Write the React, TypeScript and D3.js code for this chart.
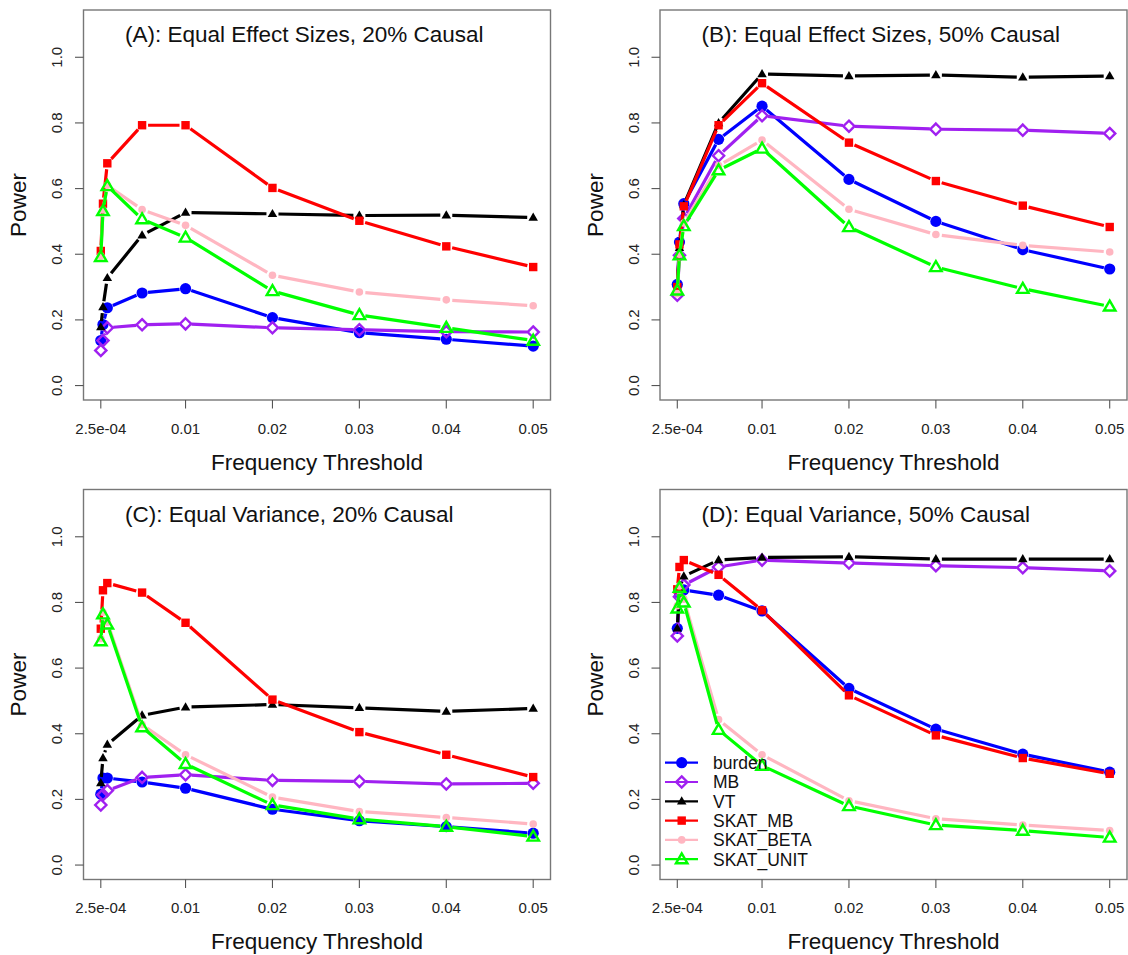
import React from "react";
import * as d3 from "d3";

const thresholds = [0.00025, 0.0005, 0.001, 0.005, 0.01, 0.02, 0.03, 0.04, 0.05];
const xTickValues = [0.00025, 0.01, 0.02, 0.03, 0.04, 0.05];
const xTickLabels = ["2.5e-04", "0.01", "0.02", "0.03", "0.04", "0.05"];
const yTickValues = [0, 0.2, 0.4, 0.6, 0.8, 1.0];
const yTickLabels = ["0.0", "0.2", "0.4", "0.6", "0.8", "1.0"];
const methods = ["burden", "MB", "VT", "SKAT_MB", "SKAT_BETA", "SKAT_UNIT"];
const panelTitles = [
  "(A): Equal Effect Sizes, 20% Causal",
  "(B): Equal Effect Sizes, 50% Causal",
  "(C): Equal Variance, 20% Causal",
  "(D): Equal Variance, 50% Causal",
];

// Panel A
const aBurden = [0.137, 0.186, 0.237, 0.282, 0.295, 0.207, 0.161, 0.141, 0.12];
const aMB = [0.107, 0.137, 0.176, 0.185, 0.188, 0.176, 0.17, 0.164, 0.163];
const aVT = [0.178, 0.239, 0.328, 0.458, 0.527, 0.523, 0.518, 0.519, 0.512];
const aSkatMB = [0.41, 0.554, 0.677, 0.793, 0.793, 0.602, 0.502, 0.424, 0.361];
const aSkatBeta = [0.395, 0.535, 0.61, 0.536, 0.488, 0.336, 0.285, 0.261, 0.243];
const aSkatUnit = [0.392, 0.532, 0.608, 0.507, 0.451, 0.288, 0.215, 0.176, 0.137];

// Panel B
const bBurden = [0.308, 0.437, 0.554, 0.75, 0.851, 0.628, 0.5, 0.414, 0.355];
const bMB = [0.275, 0.397, 0.509, 0.7, 0.822, 0.79, 0.781, 0.778, 0.768];
const bVT = [0.29, 0.42, 0.55, 0.8, 0.949, 0.943, 0.946, 0.939, 0.943];
const bSkatMB = [0.3, 0.43, 0.546, 0.793, 0.921, 0.74, 0.623, 0.548, 0.483];
const bSkatBeta = [0.28, 0.4, 0.495, 0.67, 0.748, 0.537, 0.46, 0.427, 0.407];
const bSkatUnit = [0.29, 0.397, 0.486, 0.656, 0.722, 0.483, 0.361, 0.295, 0.241];

// Panel C
const cBurden = [0.216, 0.265, 0.265, 0.253, 0.234, 0.17, 0.135, 0.117, 0.097];
const cMB = [0.183, 0.214, 0.227, 0.267, 0.275, 0.258, 0.255, 0.247, 0.249];
const cVT = [0.25, 0.326, 0.367, 0.456, 0.481, 0.489, 0.479, 0.468, 0.477];
const cSkatMB = [0.72, 0.837, 0.859, 0.83, 0.738, 0.504, 0.405, 0.336, 0.268];
const cSkatBeta = [0.69, 0.77, 0.74, 0.428, 0.336, 0.207, 0.163, 0.145, 0.125];
const cSkatUnit = [0.682, 0.764, 0.733, 0.42, 0.308, 0.183, 0.14, 0.117, 0.087];

// Panel D
const dBurden = [0.721, 0.82, 0.838, 0.822, 0.774, 0.538, 0.414, 0.338, 0.283];
const dMB = [0.698, 0.817, 0.853, 0.908, 0.929, 0.92, 0.912, 0.906, 0.896];
const dVT = [0.721, 0.84, 0.88, 0.929, 0.937, 0.939, 0.932, 0.932, 0.932];
const dSkatMB = [0.84, 0.908, 0.929, 0.884, 0.776, 0.517, 0.395, 0.326, 0.278];
const dSkatBeta = [0.79, 0.85, 0.81, 0.443, 0.336, 0.196, 0.141, 0.122, 0.105];
const dSkatUnit = [0.782, 0.845, 0.8, 0.412, 0.303, 0.18, 0.122, 0.105, 0.084];

const panelSeries = [
  [aBurden, aMB, aVT, aSkatMB, aSkatBeta, aSkatUnit],
  [bBurden, bMB, bVT, bSkatMB, bSkatBeta, bSkatUnit],
  [cBurden, cMB, cVT, cSkatMB, cSkatBeta, cSkatUnit],
  [dBurden, dMB, dVT, dSkatMB, dSkatBeta, dSkatUnit],
];

const COLORS = ["#0000FF", "#A020F0", "#000000", "#FF0000", "#FFB6C1", "#00FF00"];
const SHAPES = ["circle", "diamond", "triangle", "square", "dot", "openTriangle"];

const FONT = "'Liberation Sans', Arial, Helvetica, sans-serif";
const W = 1128;
const H = 955;
const PW = 467;
const PH = 390;
const ORIGINS = [
  { left: 83.5, top: 10 },
  { left: 660, top: 10 },
  { left: 83.5, top: 489.5 },
  { left: 660, top: 489.5 },
];

function Marker({ shape, color, cx, cy }: { shape: string; color: string; cx: number; cy: number }) {
  if (shape === "circle") return <circle cx={cx} cy={cy} r={5.6} fill={color} />;
  if (shape === "dot") return <circle cx={cx} cy={cy} r={3.8} fill={color} />;
  if (shape === "square") return <rect x={cx - 4.2} y={cy - 4.2} width={8.4} height={8.4} fill={color} />;
  if (shape === "diamond") {
    const r = 5.6;
    return (
      <path
        d={`M${cx},${cy - r}L${cx + r},${cy}L${cx},${cy + r}L${cx - r},${cy}Z`}
        fill="none"
        stroke={color}
        strokeWidth={2.4}
      />
    );
  }
  if (shape === "triangle") {
    const s = 9.5;
    const h = (s * Math.sqrt(3)) / 2;
    return (
      <path
        d={`M${cx},${cy - (2 * h) / 3 + 0.5}L${cx + s / 2},${cy + h / 3 + 0.5}L${cx - s / 2},${cy + h / 3 + 0.5}Z`}
        fill={color}
      />
    );
  }
  // open triangle
  const s = 11.5;
  const h = (s * Math.sqrt(3)) / 2;
  return (
    <path
      d={`M${cx},${cy - (2 * h) / 3 + 0.8}L${cx + s / 2},${cy + h / 3 + 0.8}L${cx - s / 2},${cy + h / 3 + 0.8}Z`}
      fill="none"
      stroke={color}
      strokeWidth={2.4}
      strokeLinejoin="miter"
    />
  );
}

function gappedSegments(pts: [number, number][], gap: number) {
  const segs: string[] = [];
  for (let i = 0; i < pts.length - 1; i++) {
    const [x1, y1] = pts[i];
    const [x2, y2] = pts[i + 1];
    const dx = x2 - x1;
    const dy = y2 - y1;
    const d = Math.hypot(dx, dy);
    if (d <= 2 * gap) continue;
    const ux = dx / d;
    const uy = dy / d;
    segs.push(`M${x1 + ux * gap},${y1 + uy * gap}L${x2 - ux * gap},${y2 - uy * gap}`);
  }
  return segs.join("");
}

function Panel({ idx }: { idx: number }) {
  const { left, top } = ORIGINS[idx];
  const xMin = d3.min(thresholds) as number;
  const xMax = d3.max(thresholds) as number;
  const xr = xMax - xMin;
  const x = d3.scaleLinear().domain([xMin - 0.04 * xr, xMax + 0.04 * xr]).range([left, left + PW]);
  const y = d3.scaleLinear().domain([-0.044, 1.144]).range([top + PH, top]);
  const bottom = top + PH;
  const series = panelSeries[idx];

  return (
    <g>
      <rect x={left} y={top} width={PW} height={PH} fill="none" stroke="#777" strokeWidth={1.4} />
      {xTickValues.map((v, i) => (
        <g key={"xt" + i}>
          <line x1={x(v)} x2={x(v)} y1={bottom} y2={bottom + 8.5} stroke="#555" strokeWidth={1.1} />
          <text x={x(v)} y={bottom + 33.7} textAnchor="middle" fontSize={15} fill="#222" fontFamily={FONT}>
            {xTickLabels[i]}
          </text>
        </g>
      ))}
      {yTickValues.map((v, i) => (
        <g key={"yt" + i}>
          <line x1={left - 8.5} x2={left} y1={y(v)} y2={y(v)} stroke="#555" strokeWidth={1.1} />
          <text
            transform={`translate(${left - 21.5},${y(v)}) rotate(-90)`}
            textAnchor="middle"
            fontSize={15}
            fill="#222"
            fontFamily={FONT}
          >
            {yTickLabels[i]}
          </text>
        </g>
      ))}
      <text
        transform={`translate(${left - 57.5},${top + PH / 2}) rotate(-90)`}
        textAnchor="middle"
        fontSize={22.5}
        fill="#111"
        fontFamily={FONT}
      >
        Power
      </text>
      <text x={left + PW / 2} y={bottom + 69.7} textAnchor="middle" fontSize={22.5} fill="#111" fontFamily={FONT}>
        Frequency Threshold
      </text>
      <text x={left + 41.5} y={top + 32} fontSize={22.5} fill="#111" fontFamily={FONT}>
        {panelTitles[idx]}
      </text>
      {series.map((vals, si) => {
        const pts: [number, number][] = vals.map((v, k) => [x(thresholds[k]), y(v)]);
        return (
          <g key={"s" + si}>
            <path d={gappedSegments(pts, 6)} fill="none" stroke={COLORS[si]} strokeWidth={3.2} strokeLinecap="butt" />
            {pts.map((p, k) => (
              <Marker key={k} shape={SHAPES[si]} color={COLORS[si]} cx={p[0]} cy={p[1]} />
            ))}
          </g>
        );
      })}
      {idx === 3 && (
        <g>
          {methods.map((m, i) => {
            const ly = top + 273.2 + i * 19.3;
            return (
              <g key={"lg" + i}>
                <line x1={left + 5} x2={left + 38} y1={ly} y2={ly} stroke={COLORS[i]} strokeWidth={2.2} />
                <Marker shape={SHAPES[i]} color={COLORS[i]} cx={left + 21.7} cy={ly} />
                <text
                  x={left + 53}
                  y={ly}
                  dy="0.36em"
                  fontSize={17.5}
                  fill="#111"
                  fontFamily={FONT}
                >
                  {m}
                </text>
              </g>
            );
          })}
        </g>
      )}
    </g>
  );
}

export default function App() {
  return (
    <div style={{ position: "absolute", left: 0, top: 0, width: W, height: H, background: "#fff" }}>
      <svg width={W} height={H} viewBox={`0 0 ${W} ${H}`} style={{ display: "block" }}>
        <rect x={0} y={0} width={W} height={H} fill="#fff" />
        {[0, 1, 2, 3].map((i) => (
          <Panel key={i} idx={i} />
        ))}
      </svg>
    </div>
  );
}
